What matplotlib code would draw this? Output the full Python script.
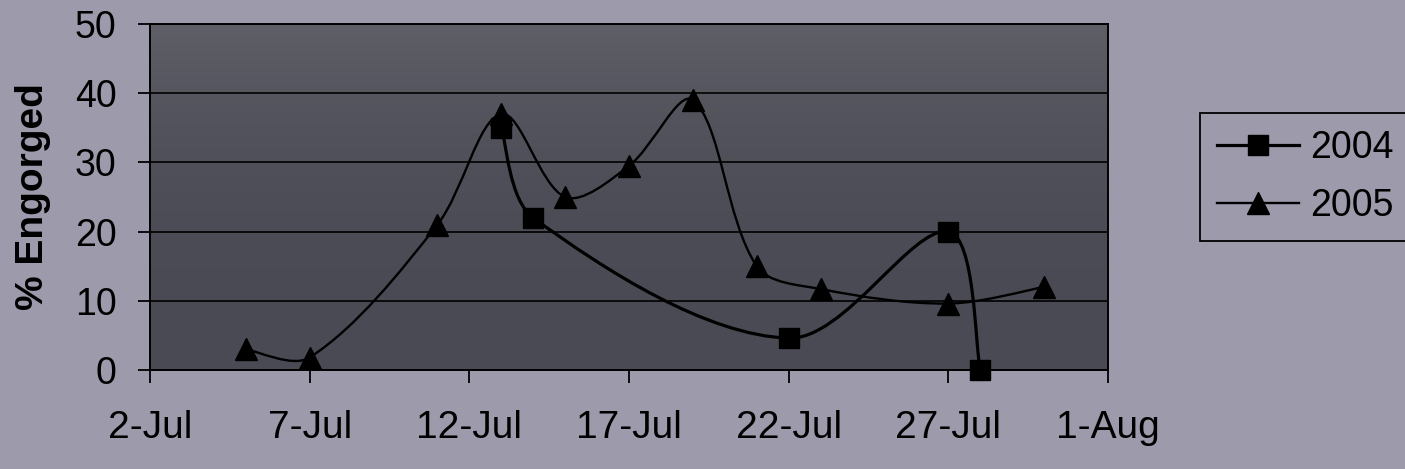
import numpy as np
import matplotlib
matplotlib.use("Agg")
import matplotlib.pyplot as plt
import matplotlib.dates as mdates
from matplotlib.path import Path
from matplotlib.patches import PathPatch
from matplotlib.lines import Line2D
from datetime import datetime

plt.rcParams['font.family'] = ['Liberation Sans', 'DejaVu Sans']

# Observation dates (day-month) and percent of ticks engorged
dates_2004 = ['13-Jul', '14-Jul', '22-Jul', '27-Jul', '28-Jul']
engorged_2004 = [35, 22, 4.6, 20, 0]

dates_2005 = ['5-Jul', '7-Jul', '11-Jul', '13-Jul', '15-Jul', '17-Jul',
              '19-Jul', '21-Jul', '23-Jul', '27-Jul', '30-Jul']
engorged_2005 = [3, 1.8, 21, 37, 25, 29.5, 39, 15, 11.7, 9.6, 12]

x_start, x_end = '2-Jul', '1-Aug'
y_ticks = [0, 10, 20, 30, 40, 50]
series_labels = ['2004', '2005']

FIG_BG = '#9c9aab'
PLOT_TOP = '#5f5f68'
PLOT_BOTTOM = '#4a4a54'


def to_num(day_month):
    return mdates.date2num(datetime.strptime(day_month + '-2005', '%d-%b-%Y'))


def smooth_path(ax, xs, ys):
    """Bezier path through the points; tangents are weighted by the
    on-screen chord lengths of the neighbouring segments."""
    to_disp = ax.transData
    pts = to_disp.transform(np.column_stack([xs, ys]).astype(float))
    n = len(pts)
    seg = np.hypot(*np.diff(pts, axis=0).T)
    verts = [pts[0]]
    codes = [Path.MOVETO]
    for i in range(n - 1):
        p0, p1 = pts[i], pts[i + 1]
        d = seg[i]
        if i > 0:
            t0 = (p1 - pts[i - 1]) * d / (seg[i - 1] + d)
        else:
            t0 = (p1 - p0) * 0.5
        if i + 2 < n:
            t1 = (pts[i + 2] - p0) * d / (d + seg[i + 1])
        else:
            t1 = (p1 - p0) * 0.5
        c1 = p0 + t0 / 3.0
        c2 = p1 - t1 / 3.0
        verts += [c1, c2, p1]
        codes += [Path.CURVE4] * 3
    data_verts = to_disp.inverted().transform(np.array(verts))
    return Path(data_verts, codes)


fig = plt.figure(figsize=(14.05, 4.69), dpi=100, facecolor=FIG_BG)
ax = fig.add_axes([150 / 1405, 1 - 370 / 469, 958 / 1405, 346 / 469])

ax.set_xlim(to_num(x_start), to_num(x_end))
ax.set_ylim(y_ticks[0], y_ticks[-1])

# plot area fill, slightly lighter towards the top
grad = np.linspace(0, 1, 200) ** 2.5
top = np.array(matplotlib.colors.to_rgb(PLOT_TOP))
bot = np.array(matplotlib.colors.to_rgb(PLOT_BOTTOM))
img = bot[None, :] + (top - bot)[None, :] * grad[:, None]
ax.imshow(img[:, None, :], extent=(0, 1, 0, 1), origin='lower',
          transform=ax.transAxes, aspect='auto', zorder=0)
ax.set_xlim(to_num(x_start), to_num(x_end))
ax.set_ylim(y_ticks[0], y_ticks[-1])

x04 = [to_num(d) for d in dates_2004]
x05 = [to_num(d) for d in dates_2005]

ax.add_patch(PathPatch(smooth_path(ax, x04, engorged_2004), fill=False,
                       edgecolor='black', lw=2.3, zorder=3))
ax.add_patch(PathPatch(smooth_path(ax, x05, engorged_2005), fill=False,
                       edgecolor='black', lw=1.7, zorder=3))
ax.plot(x04, engorged_2004, ls='none', marker='s', ms=14, color='black',
        zorder=4, clip_on=False)
ax.plot(x05, engorged_2005, ls='none', marker='^', ms=16, color='black',
        zorder=4, clip_on=False)

ax.set_yticks(y_ticks)
ax.xaxis.set_major_locator(mdates.DayLocator(bymonthday=[1, 2, 7, 12, 17, 22, 27]))
ax.xaxis.set_major_formatter(mdates.DateFormatter('%-d-%b'))
ax.set_facecolor(PLOT_BOTTOM)

ax.yaxis.grid(True, color='black', lw=1.2, zorder=1)
ax.set_axisbelow(True)
for s in ax.spines.values():
    s.set_color('black')
    s.set_linewidth(1.4)
    s.set_zorder(5)

ax.tick_params(axis='both', direction='out', length=9, width=1.3,
               color='black', labelcolor='black')
ax.tick_params(axis='y', labelsize=27, pad=15)
ax.tick_params(axis='x', labelsize=28, pad=20)

ax.set_ylabel('% Engorged', fontsize=28, fontweight='bold', va='center')
ax.yaxis.set_label_coords(-0.122, 0.5)

handles = [
    Line2D([], [], color='black', lw=2.3, marker='s', ms=14),
    Line2D([], [], color='black', lw=1.7, marker='^', ms=16),
]
leg = fig.legend(handles, series_labels, loc='upper left',
                 bbox_to_anchor=(1200 / 1405, 1 - 113 / 469),
                 bbox_transform=fig.transFigure, fontsize=27,
                 frameon=True, fancybox=False, edgecolor='black',
                 facecolor=FIG_BG, framealpha=1, borderpad=0.45,
                 handlelength=2.2, handletextpad=0.3, labelspacing=0.6,
                 borderaxespad=0)
leg.get_frame().set_linewidth(1.3)

fig.savefig('out.png', dpi=100, facecolor=FIG_BG)
